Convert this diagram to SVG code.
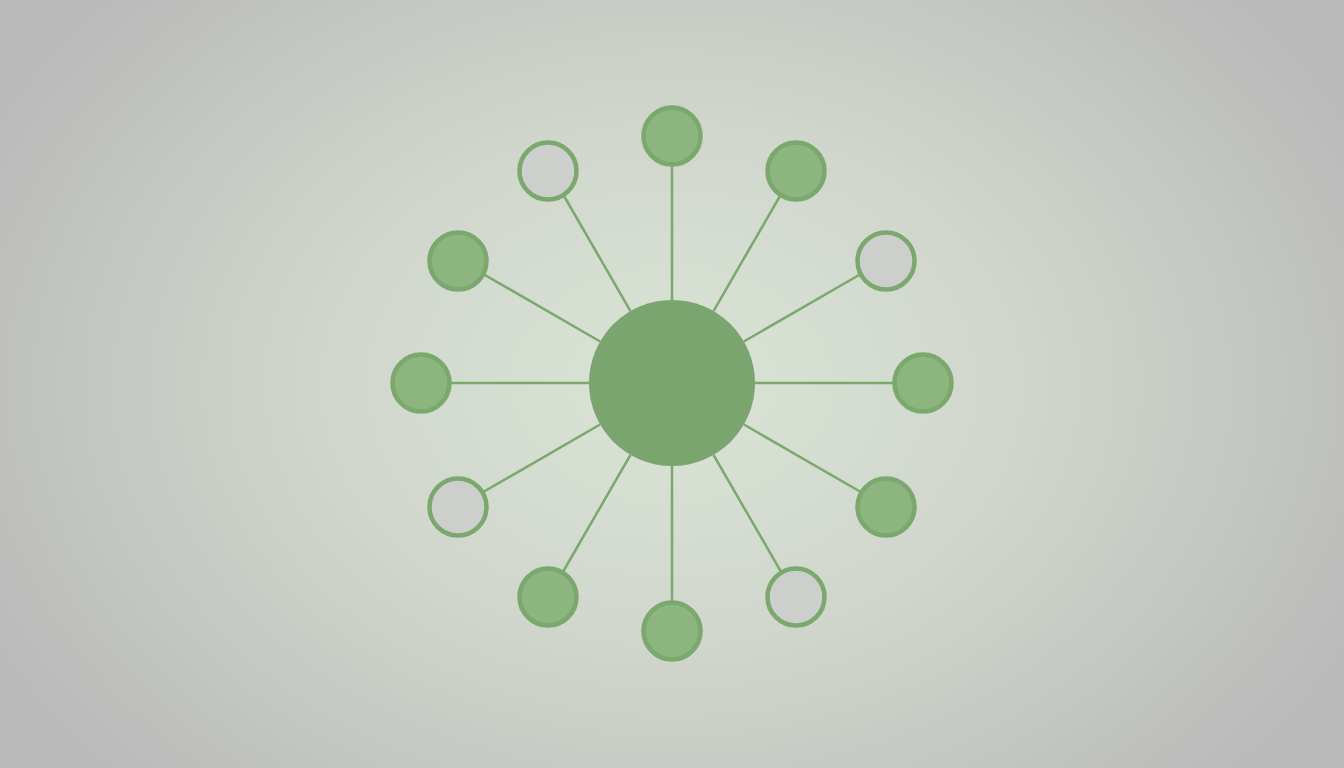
<svg xmlns="http://www.w3.org/2000/svg" width="1344" height="768" viewBox="0 0 1344 768">
<defs>
<radialGradient id="bg" cx="672" cy="384" r="780" gradientUnits="userSpaceOnUse" gradientTransform="translate(672 384) scale(1 0.75) translate(-672 -384)">
<stop offset="0" stop-color="#dbe3d6"/>
<stop offset="0.45" stop-color="#d0d6cc"/>
<stop offset="1" stop-color="#b9b9b9"/>
</radialGradient>
<style>
.link{stroke:#7aa86d;stroke-width:2.5;fill:none}
.g{fill:#8db580;stroke:#7aa86d;stroke-width:4.5}
.s{fill:#cdcfcc;stroke:#7aa86d;stroke-width:4.5}
.hub{fill:#7ba56f}
</style>
</defs>
<rect width="1344" height="768" fill="url(#bg)"/>
<g id="connectors">
<line class="link" x1="672" y1="300" x2="672" y2="164"/>
<line class="link" x1="713.5" y1="311.1" x2="782" y2="192.5"/>
<line class="link" x1="743.9" y1="341.5" x2="862.5" y2="273"/>
<line class="link" x1="755" y1="383" x2="894" y2="383"/>
<line class="link" x1="743.9" y1="424.5" x2="862.5" y2="493"/>
<line class="link" x1="713.5" y1="454.9" x2="782" y2="573.5"/>
<line class="link" x1="672" y1="466" x2="672" y2="603"/>
<line class="link" x1="630.5" y1="454.9" x2="562" y2="573.5"/>
<line class="link" x1="600.1" y1="424.5" x2="481.5" y2="493"/>
<line class="link" x1="589" y1="383" x2="450" y2="383"/>
<line class="link" x1="600.1" y1="341.5" x2="481.5" y2="273"/>
<line class="link" x1="630.5" y1="311.1" x2="562" y2="192.5"/>
</g>
<g id="hub"><circle class="hub" cx="672" cy="383" r="83"/></g>
<g id="n0"><circle class="g" cx="672" cy="136" r="28.5"/></g>
<g id="n1"><circle class="g" cx="796" cy="171" r="28.5"/></g>
<g id="n2"><circle class="s" cx="886" cy="261" r="28.5"/></g>
<g id="n3"><circle class="g" cx="923" cy="383" r="28.5"/></g>
<g id="n4"><circle class="g" cx="886" cy="507" r="28.5"/></g>
<g id="n5"><circle class="s" cx="796" cy="597" r="28.5"/></g>
<g id="n6"><circle class="g" cx="672" cy="631" r="28.5"/></g>
<g id="n7"><circle class="g" cx="548" cy="597" r="28.5"/></g>
<g id="n8"><circle class="s" cx="458" cy="507" r="28.5"/></g>
<g id="n9"><circle class="g" cx="421" cy="383" r="28.5"/></g>
<g id="n10"><circle class="g" cx="458" cy="261" r="28.5"/></g>
<g id="n11"><circle class="s" cx="548" cy="171" r="28.5"/></g>
</svg>
